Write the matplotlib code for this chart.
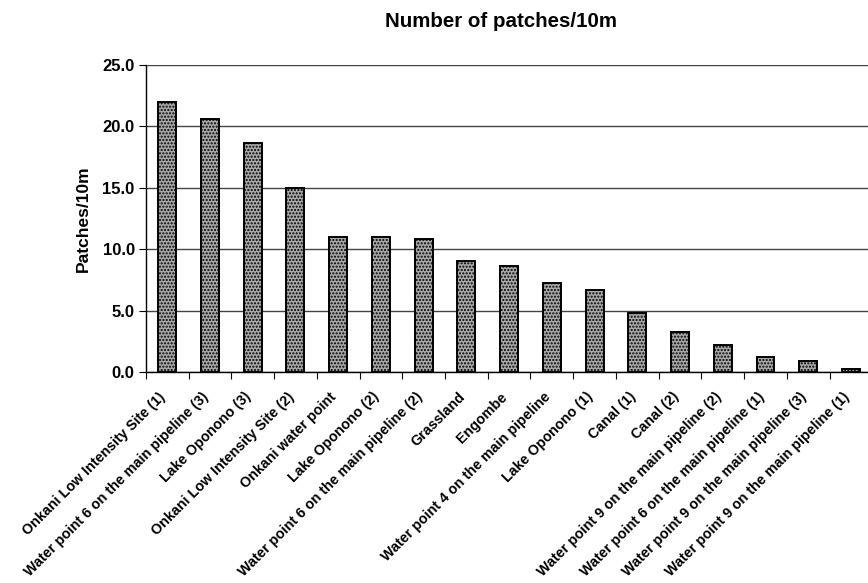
import numpy as np
import matplotlib.pyplot as plt

plt.rcParams['font.family'] = ['Liberation Sans', 'DejaVu Sans']
plt.rcParams['font.weight'] = 'bold'
plt.rcParams['hatch.color'] = '#5a5a5a'

sites = ["Onkani Low Intensity Site (1)",
         "Water point 6 on the main pipeline (3)",
         "Lake Oponono (3)",
         "Onkani Low Intensity Site (2)",
         "Onkani water point",
         "Lake Oponono (2)",
         "Water point 6 on the main pipeline (2)",
         "Grassland",
         "Engombe",
         "Water point 4 on the main pipeline",
         "Lake Oponono (1)",
         "Canal (1)",
         "Canal (2)",
         "Water point 9 on the main pipeline (2)",
         "Water point 6 on the main pipeline (1)",
         "Water point 9 on the main pipeline (3)",
         "Water point 9 on the main pipeline (1)"]
patches = [22.0, 20.6, 18.6, 15.0, 11.0, 11.0, 10.8, 9.0, 8.6, 7.25,
           6.65, 4.8, 3.25, 2.2, 1.25, 0.9, 0.27]

fig = plt.figure(figsize=(8.68, 5.83), dpi=100)
ax = fig.add_axes([0.168, 0.362, 0.837, 0.527])

x = np.arange(len(sites))
ax.bar(x, patches, width=0.42, color='#a8a8a8', edgecolor='black',
       linewidth=1.4, hatch='.....', zorder=3)

ax.set_xlim(-0.5, len(sites) - 0.5)
ax.set_ylim(0, 25)
yt = np.arange(0, 25.1, 5)
ax.set_yticks(yt)
ax.set_yticklabels([f"{v:.1f}" for v in yt], fontsize=12, fontweight='bold')
ax.yaxis.grid(True, color='#444444', linewidth=1.0, zorder=0)

# category boundary ticks on the x axis
ax.set_xticks(np.arange(-0.5, len(sites)))
ax.set_xticklabels([])
ax.tick_params(axis='x', length=5, width=0.8, direction='out')
ax.tick_params(axis='y', length=5, width=0.8, direction='out', pad=3)
for xi, name in zip(x, sites):
    ax.text(xi - 0.2, -1.45, name, rotation=45, ha='right', va='top',
            rotation_mode='anchor', fontsize=10.3, fontweight='bold')

for side in ['top', 'right']:
    ax.spines[side].set_visible(False)
ax.spines['left'].set_linewidth(1.0)
ax.spines['bottom'].set_linewidth(1.0)

ax.set_ylabel("Patches/10m", fontsize=12.5, fontweight='bold', labelpad=8)
fig.text(0.577, 0.963, "Number of patches/10m", ha='center', va='center',
         fontsize=14.8, fontweight='bold')

fig.savefig('out.png', dpi=100, facecolor='white')
